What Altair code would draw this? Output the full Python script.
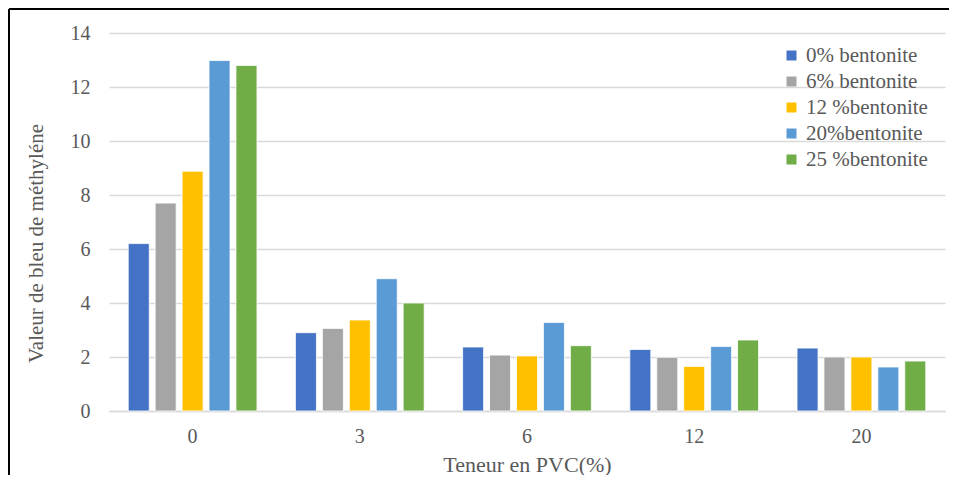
import altair as alt
import pandas as pd

categories = ["0", "3", "6", "12", "20"]
series = ["0% bentonite", "6% bentonite", "12 %bentonite", "20%bentonite", "25 %bentonite"]
colors = ["#4472C4", "#A5A5A5", "#FFC000", "#5B9BD5", "#70AD47"]
values = {
    "0% bentonite":  [6.2, 2.9, 2.37, 2.28, 2.33],
    "6% bentonite":  [7.7, 3.06, 2.07, 1.99, 2.0],
    "12 %bentonite": [8.88, 3.37, 2.04, 1.65, 2.0],
    "20%bentonite":  [12.98, 4.9, 3.28, 2.39, 1.63],
    "25 %bentonite": [12.8, 4.0, 2.42, 2.63, 1.85],
}

rows = []
for s in series:
    for c, v in zip(categories, values[s]):
        rows.append({"PVC": c, "serie": s, "val": v})
df = pd.DataFrame(rows)

FONT = "Liberation Serif, Times New Roman, serif"
TXT = "#595959"

bars = alt.Chart(df).mark_bar(stroke="white", strokeWidth=0.8).encode(
    x=alt.X("PVC:N", sort=categories,
            scale=alt.Scale(paddingInner=0.23, paddingOuter=0.115),
            axis=alt.Axis(title="Teneur en PVC(%)", labelAngle=0, ticks=False,
                          domain=True, domainColor="#D9D9D9", domainWidth=1.5,
                          labelPadding=15, titlePadding=8, grid=False,
                          labelFont=FONT, titleFont=FONT)),
    xOffset=alt.XOffset("serie:N", sort=series, scale=alt.Scale(paddingInner=0.22)),
    y=alt.Y("val:Q", scale=alt.Scale(domain=[0, 14]),
            axis=alt.Axis(title="Valeur de bleu de méthyléne", values=[0, 2, 4, 6, 8, 10, 12, 14],
                          ticks=False, domain=False, grid=True, gridColor="#D9D9D9",
                          gridWidth=1.5, labelPadding=19, titlePadding=24, titleY=210,
                          titleFontSize=21, labelFont=FONT, titleFont=FONT)),
    color=alt.Color("serie:N", sort=series,
                    scale=alt.Scale(domain=series, range=colors),
                    legend=alt.Legend(title=None, orient="none", legendX=672, legendY=12,
                                      symbolType="square", symbolSize=100,
                                      symbolStrokeWidth=0, labelFontSize=21,
                                      labelFont=FONT, labelColor=TXT, rowPadding=4,
                                      labelOffset=4)),
)

border_left = alt.Chart(df).mark_rule(color="black", strokeWidth=2).encode(
    x=alt.value(-100), y=alt.value(-24), y2=alt.value(460)
)
border_top = alt.Chart(df).mark_rule(color="black", strokeWidth=2).encode(
    x=alt.value(-100), x2=alt.value(860), y=alt.value(-24)
)

chart = alt.layer(bars, border_left, border_top).properties(
    width=836, height=378,
    autosize=alt.AutoSizeParams(type="none"),
    padding={"left": 101, "top": 25, "right": 4, "bottom": 64},
    background="white",
).configure(font=FONT).configure_view(stroke=None).configure_axis(
    labelColor=TXT, titleColor=TXT,
    labelFontSize=20, titleFontSize=22, titleFontWeight="normal"
)

chart.save("out.html", embed_options={"renderer": "svg", "actions": False})
